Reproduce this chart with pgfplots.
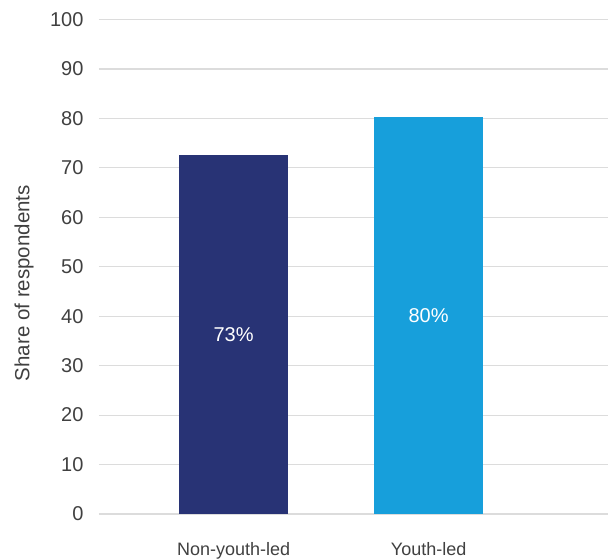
\documentclass[border=0pt]{standalone}
\usepackage{pgfplots}
\pgfplotsset{compat=1.18}
\usepackage{fontspec}
\setmainfont{Liberation Sans}
\definecolor{navy}{HTML}{283375}
\definecolor{sky}{HTML}{179FDB}
\definecolor{gridc}{HTML}{DCDCDC}
\definecolor{txt}{HTML}{404040}
\begin{document}
\begin{tikzpicture}
\begin{axis}[
    scale only axis,
    width=509pt, height=494.5pt,
    ymin=0, ymax=100,
    xmin=-0.69, xmax=1.92,
    ytick={0,10,...,100},
    xtick={0,1},
    xticklabels={Non-youth-led, Youth-led},
    axis line style={draw=none},
    major tick style={draw=none},
    ymajorgrids,
    grid style={gridc, line width=1.2pt},
    tick label style={txt},
    /pgf/number format/assume math mode=true,
    yticklabel style={xshift=-12pt, font=\fontsize{20}{22}\selectfont},
    xticklabel style={yshift=-25pt, font=\fontsize{18}{20}\selectfont},
    ylabel={Share of respondents},
    ylabel style={txt, font=\fontsize{20.5}{22}\selectfont,
        at={(axis description cs:-0.147,0.467)}, anchor=center, rotate=0},
    clip=false,
]
\addplot[ybar, bar width=109pt, fill=navy, draw=none] coordinates {(0,72.6)};
\addplot[ybar, bar width=109pt, fill=sky, draw=none] coordinates {(1,80.3)};
\node[white, font=\fontsize{20}{22}\selectfont] at (axis cs:0,36.3) {73\%};
\node[white, font=\fontsize{20}{22}\selectfont] at (axis cs:1,40.1) {80\%};
\end{axis}
\pgfresetboundingbox
\path[use as bounding box] (-99pt,-44pt) rectangle (509pt,514pt);
\end{tikzpicture}
\end{document}
